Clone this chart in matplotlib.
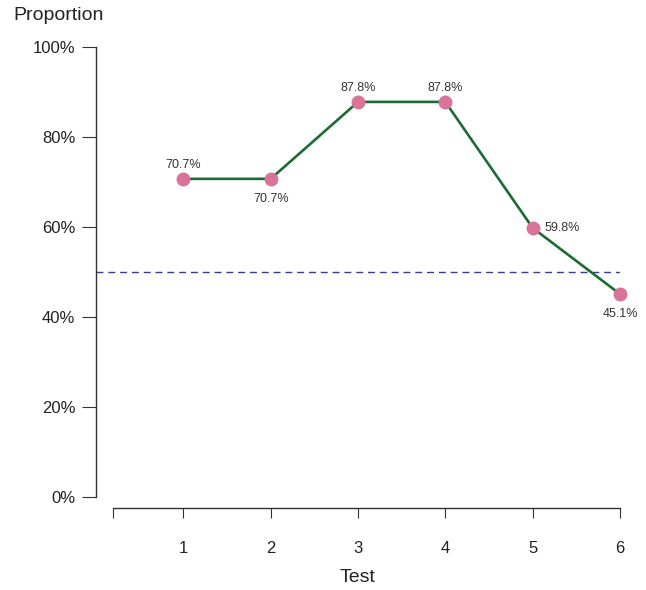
import matplotlib.pyplot as plt
from matplotlib.ticker import PercentFormatter

plt.rcParams['font.family'] = ['Liberation Sans', 'DejaVu Sans']

tests = [1, 2, 3, 4, 5, 6]
proportion = [0.707, 0.707, 0.878, 0.878, 0.598, 0.451]
# where each value label sits relative to its point (dx, dy in points)
label_pos = [(0, 10), (0, -14.5), (0, 10), (0, 10), (8.5, 0), (0, -14.5)]

fig = plt.figure(figsize=(6.46, 5.9), dpi=100)
ax = fig.add_axes([96 / 646, 93 / 590, 524 / 646, 450 / 590])

ax.axhline(0.5, color='#3b3b8c', lw=1, ls=(0, (5, 3.5)))
ax.plot(tests, proportion, color='#1b6b33', lw=1.9, zorder=3, clip_on=False)
ax.plot(tests, proportion, 'o', color='#d97399', ms=9, mec='#d97399', zorder=4, clip_on=False)

for x, y, (dx, dy) in zip(tests, proportion, label_pos):
    ha = 'left' if dx > 0 else 'center'
    ax.annotate(f'{y * 100:.1f}%', (x, y), xytext=(dx, dy), textcoords='offset points',
                ha=ha, va='center', fontsize=9, color='#333333', annotation_clip=False)

ax.set_xlim(0, 6)
ax.set_ylim(0, 1)

for s in ['top', 'right']:
    ax.spines[s].set_visible(False)
ax.spines['left'].set_bounds(0, 1)
ax.spines['bottom'].set_position(('outward', 8))
ax.spines['bottom'].set_bounds(0.19, 6)
for s in ['left', 'bottom']:
    ax.spines[s].set_color('#333333')
    ax.spines[s].set_linewidth(1)

ax.set_xticks([0.19] + tests)
ax.set_xticklabels([''] + [str(t) for t in tests])
ax.set_yticks([0, 0.2, 0.4, 0.6, 0.8, 1.0])
ax.yaxis.set_major_formatter(PercentFormatter(1.0, decimals=0))
ax.tick_params(axis='x', length=7, pad=17, labelsize=12, colors='#333333', labelcolor='#222222')
ax.tick_params(axis='y', length=10, pad=5, labelsize=12, colors='#333333', labelcolor='#222222')

ax.set_xlabel('Test', fontsize=14, labelpad=9, color='#222222')
fig.text(13 / 646, 1 - 16 / 590, 'Proportion', fontsize=14, va='center', ha='left', color='#222222')

fig.savefig('out.png', dpi=100)
